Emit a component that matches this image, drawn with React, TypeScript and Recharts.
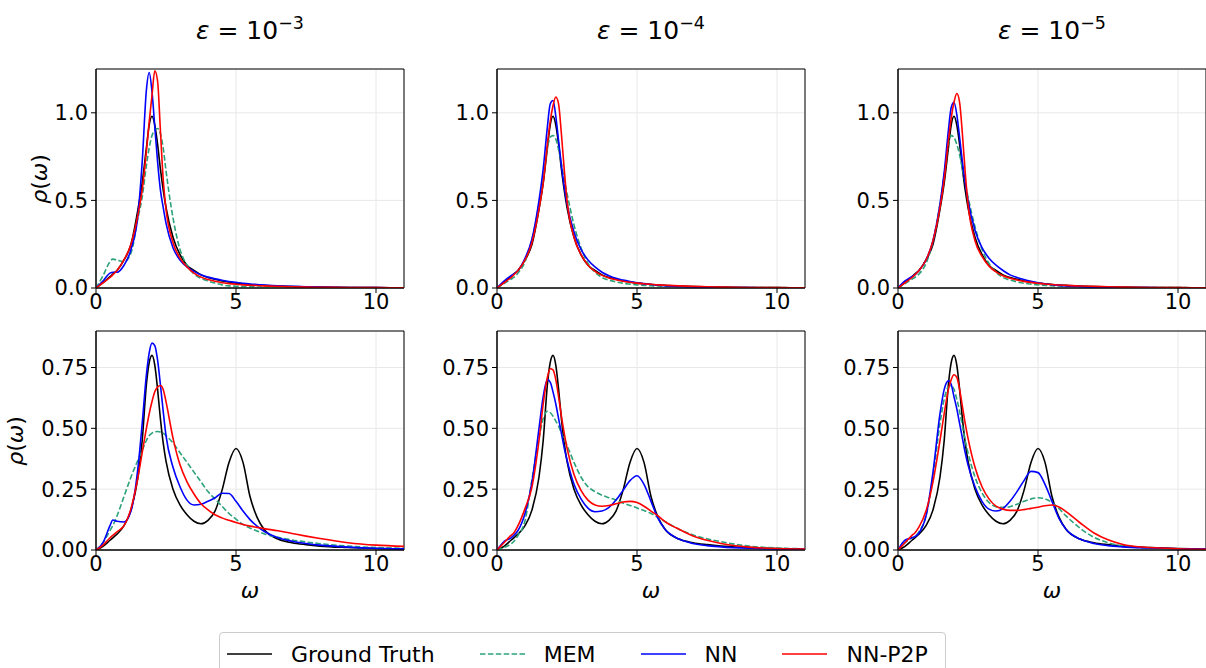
import React from 'react';
import { LineChart, Line, XAxis, YAxis, CartesianGrid, ReferenceArea } from 'recharts';

const OMEGA = [0, 0.25, 0.5, 0.6, 0.75, 1, 1.25, 1.5, 1.65, 1.8, 1.9, 2, 2.1, 2.2, 2.3, 2.4, 2.5, 2.75, 3, 3.25, 3.5, 3.75, 4, 4.25, 4.5, 4.75, 5, 5.25, 5.5, 5.75, 6, 6.5, 7, 7.5, 8, 9, 10, 11];

const TITLES = ['−3', '−4', '−5'];

// ground truth is shared across the noise levels
const GT_TOP = [0, 0.03, 0.065, 0.08, 0.1, 0.16, 0.25, 0.45, 0.6, 0.8, 0.93, 0.98, 0.93, 0.82, 0.68, 0.56, 0.46, 0.29, 0.19, 0.13, 0.1, 0.075, 0.06, 0.05, 0.04, 0.034, 0.028, 0.024, 0.02, 0.017, 0.015, 0.011, 0.008, 0.006, 0.005, 0.003, 0.002, 0.001];
const GT_BOTTOM = [0, 0.015, 0.04, 0.05, 0.065, 0.1, 0.165, 0.3, 0.45, 0.68, 0.77, 0.8, 0.76, 0.66, 0.54, 0.44, 0.365, 0.25, 0.185, 0.145, 0.118, 0.108, 0.122, 0.16, 0.245, 0.36, 0.417, 0.36, 0.22, 0.135, 0.085, 0.045, 0.03, 0.022, 0.016, 0.01, 0.006, 0.004];

// top row, eps = 1e-3 / 1e-4 / 1e-5
const MEM_T1 = [0, 0.07, 0.15, 0.165, 0.16, 0.15, 0.2, 0.4, 0.52, 0.7, 0.8, 0.87, 0.9, 0.91, 0.88, 0.8, 0.67, 0.4, 0.22, 0.13, 0.08, 0.055, 0.04, 0.028, 0.018, 0.012, 0.01, 0.008, 0.007, 0.006, 0.005, 0.004, 0.003, 0.003, 0.002, 0.002, 0.001, 0.001];
const NN_T1 = [0, 0.04, 0.085, 0.09, 0.09, 0.13, 0.22, 0.42, 0.72, 1.13, 1.23, 1.12, 0.92, 0.72, 0.56, 0.46, 0.37, 0.23, 0.16, 0.12, 0.095, 0.075, 0.062, 0.052, 0.044, 0.037, 0.032, 0.027, 0.023, 0.02, 0.017, 0.012, 0.009, 0.007, 0.005, 0.003, 0.002, 0.001];
const P2P_T1 = [0, 0.03, 0.06, 0.075, 0.1, 0.16, 0.25, 0.42, 0.56, 0.78, 0.95, 1.1, 1.24, 1.18, 0.9, 0.62, 0.45, 0.26, 0.17, 0.12, 0.085, 0.062, 0.048, 0.038, 0.03, 0.025, 0.021, 0.018, 0.016, 0.014, 0.012, 0.009, 0.007, 0.005, 0.004, 0.003, 0.002, 0.001];

const MEM_T2 = [0, 0.025, 0.05, 0.06, 0.085, 0.15, 0.28, 0.48, 0.64, 0.8, 0.86, 0.87, 0.85, 0.79, 0.71, 0.62, 0.54, 0.36, 0.23, 0.14, 0.09, 0.06, 0.045, 0.035, 0.027, 0.022, 0.018, 0.015, 0.013, 0.011, 0.01, 0.007, 0.005, 0.004, 0.003, 0.002, 0.002, 0.001];
const NN_T2 = [0, 0.04, 0.07, 0.08, 0.1, 0.17, 0.28, 0.5, 0.68, 0.92, 1.05, 1.07, 0.98, 0.84, 0.7, 0.58, 0.48, 0.32, 0.22, 0.16, 0.12, 0.09, 0.07, 0.055, 0.045, 0.037, 0.03, 0.025, 0.02, 0.016, 0.013, 0.009, 0.006, 0.004, 0.003, 0.002, 0.001, 0.001];
const P2P_T2 = [0, 0.03, 0.06, 0.075, 0.1, 0.16, 0.26, 0.45, 0.6, 0.82, 0.95, 1.04, 1.09, 1.05, 0.88, 0.68, 0.5, 0.29, 0.19, 0.13, 0.095, 0.072, 0.057, 0.047, 0.039, 0.033, 0.028, 0.024, 0.021, 0.018, 0.016, 0.012, 0.009, 0.007, 0.005, 0.003, 0.002, 0.001];

const MEM_T3 = [0, 0.025, 0.05, 0.06, 0.08, 0.14, 0.27, 0.48, 0.65, 0.82, 0.87, 0.86, 0.82, 0.76, 0.68, 0.6, 0.52, 0.35, 0.22, 0.14, 0.09, 0.06, 0.045, 0.035, 0.027, 0.022, 0.018, 0.015, 0.013, 0.011, 0.01, 0.007, 0.005, 0.004, 0.003, 0.002, 0.002, 0.001];
const NN_T3 = [0, 0.04, 0.065, 0.075, 0.1, 0.16, 0.27, 0.48, 0.66, 0.9, 1.03, 1.06, 0.99, 0.86, 0.72, 0.6, 0.5, 0.33, 0.23, 0.17, 0.13, 0.1, 0.075, 0.06, 0.048, 0.038, 0.03, 0.024, 0.019, 0.015, 0.012, 0.008, 0.005, 0.004, 0.003, 0.002, 0.001, 0.001];
const P2P_T3 = [0, 0.03, 0.06, 0.075, 0.1, 0.16, 0.27, 0.46, 0.62, 0.84, 0.97, 1.06, 1.11, 1.06, 0.88, 0.66, 0.48, 0.27, 0.18, 0.125, 0.092, 0.07, 0.056, 0.046, 0.038, 0.032, 0.027, 0.023, 0.02, 0.017, 0.015, 0.011, 0.009, 0.007, 0.005, 0.003, 0.002, 0.001];

// bottom row
const MEM_B1 = [0, 0.03, 0.08, 0.1, 0.14, 0.22, 0.3, 0.37, 0.41, 0.45, 0.47, 0.48, 0.485, 0.487, 0.485, 0.48, 0.47, 0.44, 0.4, 0.36, 0.32, 0.28, 0.24, 0.21, 0.18, 0.15, 0.127, 0.105, 0.09, 0.078, 0.067, 0.052, 0.041, 0.033, 0.026, 0.016, 0.01, 0.007];
const NN_B1 = [0, 0.03, 0.1, 0.123, 0.118, 0.115, 0.16, 0.34, 0.52, 0.72, 0.81, 0.85, 0.84, 0.78, 0.68, 0.57, 0.47, 0.34, 0.26, 0.205, 0.185, 0.188, 0.2, 0.215, 0.233, 0.232, 0.2, 0.16, 0.125, 0.098, 0.077, 0.05, 0.036, 0.027, 0.02, 0.012, 0.007, 0.005];
const P2P_B1 = [0, 0.02, 0.05, 0.06, 0.075, 0.1, 0.17, 0.3, 0.4, 0.5, 0.56, 0.61, 0.65, 0.67, 0.676, 0.66, 0.61, 0.46, 0.35, 0.28, 0.23, 0.19, 0.165, 0.145, 0.132, 0.122, 0.113, 0.105, 0.098, 0.093, 0.088, 0.079, 0.068, 0.057, 0.047, 0.03, 0.02, 0.015];

const MEM_B2 = [0, 0.01, 0.025, 0.035, 0.06, 0.12, 0.29, 0.46, 0.54, 0.57, 0.565, 0.55, 0.53, 0.51, 0.48, 0.455, 0.43, 0.36, 0.3, 0.26, 0.24, 0.225, 0.215, 0.205, 0.193, 0.183, 0.173, 0.162, 0.15, 0.133, 0.117, 0.085, 0.062, 0.046, 0.034, 0.016, 0.008, 0.005];
const NN_B2 = [0, 0.035, 0.05, 0.06, 0.08, 0.15, 0.28, 0.5, 0.63, 0.7, 0.69, 0.65, 0.6, 0.54, 0.48, 0.42, 0.37, 0.27, 0.21, 0.172, 0.157, 0.16, 0.175, 0.205, 0.245, 0.285, 0.305, 0.27, 0.2, 0.13, 0.085, 0.045, 0.027, 0.018, 0.013, 0.007, 0.004, 0.003];
const P2P_B2 = [0, 0.03, 0.06, 0.07, 0.1, 0.17, 0.26, 0.45, 0.6, 0.71, 0.745, 0.74, 0.7, 0.63, 0.55, 0.48, 0.42, 0.31, 0.245, 0.205, 0.185, 0.18, 0.183, 0.19, 0.197, 0.2, 0.195, 0.18, 0.16, 0.14, 0.117, 0.085, 0.058, 0.04, 0.027, 0.012, 0.006, 0.004];

const MEM_B3 = [0, 0.03, 0.05, 0.055, 0.075, 0.14, 0.3, 0.52, 0.62, 0.67, 0.675, 0.66, 0.62, 0.57, 0.51, 0.45, 0.4, 0.3, 0.235, 0.195, 0.178, 0.175, 0.178, 0.188, 0.2, 0.21, 0.215, 0.21, 0.195, 0.17, 0.14, 0.09, 0.052, 0.03, 0.017, 0.008, 0.004, 0.003];
const NN_B3 = [0, 0.04, 0.05, 0.055, 0.07, 0.14, 0.32, 0.56, 0.66, 0.695, 0.68, 0.63, 0.58, 0.52, 0.46, 0.4, 0.35, 0.26, 0.2, 0.168, 0.16, 0.17, 0.2, 0.24, 0.285, 0.323, 0.318, 0.27, 0.2, 0.13, 0.085, 0.045, 0.027, 0.018, 0.013, 0.008, 0.005, 0.004];
const P2P_B3 = [0, 0.03, 0.06, 0.07, 0.095, 0.16, 0.28, 0.45, 0.56, 0.66, 0.7, 0.72, 0.71, 0.66, 0.59, 0.52, 0.46, 0.34, 0.26, 0.21, 0.18, 0.168, 0.163, 0.163, 0.166, 0.171, 0.176, 0.182, 0.185, 0.177, 0.158, 0.112, 0.07, 0.042, 0.024, 0.01, 0.005, 0.003];

const SERIES = [
  { key: 'gt', name: 'Ground Truth', color: '#000000', dash: undefined },
  { key: 'mem', name: 'MEM', color: '#2ca27a', dash: '5.5 2.4' },
  { key: 'nn', name: 'NN', color: '#0000ff', dash: undefined },
  { key: 'p2p', name: 'NN-P2P', color: '#ff0000', dash: undefined },
];

const COL_LEFT = [96, 497, 898];
const ROW_TOP = [69, 331];
const YLABEL_X = [40, 16];
const PLOT_W = 308;
const PLOT_H = 219;
const Y_AXIS_W = 60;
const FONT = 'DejaVu Sans, sans-serif';

const ROWS = [
  { yMax: 1.25, ticks: [0, 0.5, 1.0], digits: 1, gt: GT_TOP, panels: [[MEM_T1, NN_T1, P2P_T1], [MEM_T2, NN_T2, P2P_T2], [MEM_T3, NN_T3, P2P_T3]] },
  { yMax: 0.9, ticks: [0, 0.25, 0.5, 0.75], digits: 2, gt: GT_BOTTOM, panels: [[MEM_B1, NN_B1, P2P_B1], [MEM_B2, NN_B2, P2P_B2], [MEM_B3, NN_B3, P2P_B3]] },
];

const tickStyle = { fill: '#000', fontSize: 21, fontFamily: FONT };

function Panel({ left, top, row, col }) {
  const r = ROWS[row];
  const [mem, nn, p2p] = r.panels[col];
  const data = OMEGA.map((w, i) => ({ w, gt: r.gt[i], mem: mem[i], nn: nn[i], p2p: p2p[i] }));
  return (
    <div style={{ position: 'absolute', left: left - Y_AXIS_W, top: top - 5 }}>
      <LineChart width={Y_AXIS_W + PLOT_W + 6} height={PLOT_H + 35} data={data} margin={{ top: 5, right: 6, bottom: 0, left: 0 }}>
        <CartesianGrid stroke="#e8e8e8" />
        <XAxis dataKey="w" type="number" domain={[0, 11]} ticks={[0, 5, 10]} height={30} tick={tickStyle}
          tickLine={{ stroke: '#000' }} axisLine={{ stroke: '#000' }} tickSize={5} tickMargin={1} allowDataOverflow />
        <YAxis type="number" domain={[0, r.yMax]} ticks={r.ticks} width={Y_AXIS_W} tick={tickStyle}
          tickFormatter={(v) => v.toFixed(r.digits)} tickLine={{ stroke: '#000' }} axisLine={{ stroke: '#000' }}
          tickSize={5} tickMargin={3} allowDataOverflow />
        {SERIES.map((s) => (
          <Line key={s.key} type="monotone" dataKey={s.key} stroke={s.color} strokeWidth={1.6}
            strokeDasharray={s.dash} dot={false} isAnimationActive={false} />
        ))}
        <ReferenceArea x1={0} x2={11} y1={0} y2={r.yMax} fill="none" stroke="#000" strokeWidth={1} />
      </LineChart>
    </div>
  );
}

export default function App() {
  return (
    <div style={{ position: 'absolute', left: 0, top: 0, width: 1206, height: 668, overflow: 'hidden', background: '#fff', fontFamily: FONT }}>
      {TITLES.map((t, c) => (
        <div key={t} style={{ position: 'absolute', left: COL_LEFT[c] + PLOT_W / 2 - 100, top: 6, width: 200, textAlign: 'center', fontSize: 25, lineHeight: '34px' }}>
          <span style={{ fontStyle: 'italic' }}>ε</span> = 10<sup style={{ fontSize: '0.7em', verticalAlign: '0.55em' }}>{t}</sup>
        </div>
      ))}
      {ROW_TOP.map((top, r) => COL_LEFT.map((left, c) => (
        <Panel key={`${r}-${c}`} left={left} top={top} row={r} col={c} />
      )))}
      {ROW_TOP.map((top, r) => (
        <div key={top} style={{ position: 'absolute', left: YLABEL_X[r] - 50, top: top + PLOT_H / 2 - 15, width: 100, height: 30, textAlign: 'center',
          fontSize: 22, lineHeight: '30px', transform: 'rotate(-90deg)' }}>
          <i>ρ</i>(<i>ω</i>)
        </div>
      ))}
      {COL_LEFT.map((left) => (
        <div key={left} style={{ position: 'absolute', left: left + PLOT_W / 2 - 20, top: 577, width: 40, textAlign: 'center', fontSize: 22, lineHeight: '28px', fontStyle: 'italic' }}>
          ω
        </div>
      ))}
      <div style={{ position: 'absolute', left: 219, top: 632, width: 727, height: 44, border: '1px solid #cccccc', borderRadius: 4,
        display: 'flex', alignItems: 'center', boxSizing: 'border-box', paddingLeft: 7, fontSize: 22, whiteSpace: 'nowrap' }}>
        {SERIES.map((s, i) => (
          <div key={s.key} style={{ display: 'flex', alignItems: 'center', flexShrink: 0, marginRight: i < SERIES.length - 1 ? 45 : 0 }}>
            <svg width={45} height={10} style={{ marginRight: 19, flexShrink: 0 }}>
              <line x1={0} y1={5} x2={45} y2={5} stroke={s.color} strokeWidth={1.6} strokeDasharray={s.dash} />
            </svg>
            <span>{s.name}</span>
          </div>
        ))}
      </div>
    </div>
  );
}
